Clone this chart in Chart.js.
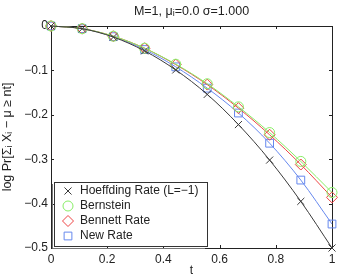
<!DOCTYPE html>
<html>
<head>
<meta charset="utf-8">
<script src="https://cdn.jsdelivr.net/npm/chart.js@4/dist/chart.umd.min.js"></script>
<style>
    html, body { margin: 0; padding: 0; background: #fff; }
</style>
</head>
<body>
<canvas id="grafico" width="341" height="278"></canvas>
<script>
// datos
var tValues = [0, 0.111, 0.222, 0.333, 0.444, 0.556, 0.667, 0.778, 0.889, 1];
var hoeffding = [0, -0.006, -0.025, -0.056, -0.099, -0.154, -0.222, -0.302, -0.395, -0.5];
var bernstein = [0, -0.006, -0.023, -0.05, -0.086, -0.13, -0.182, -0.24, -0.305, -0.375];
var bennett = [0, -0.006, -0.023, -0.05, -0.087, -0.132, -0.185, -0.245, -0.312, -0.386];
var newRate = [0, -0.006, -0.024, -0.053, -0.092, -0.14, -0.196, -0.264, -0.347, -0.446];
var xTicks = [0, 0.2, 0.4, 0.6, 0.8, 1];
var yTicks = [0, -0.1, -0.2, -0.3, -0.4, -0.5];
var etiquetas = ["Hoeffding Rate (L=\u22121)", "Bernstein", "Bennett Rate", "New Rate"];
var titulo = "M=1, \u03bc\u1d62=0.0 \u03c3=1.000";

var fuente = "'Liberation Sans', Arial, sans-serif";

function puntos(serie) {
    return tValues.map(function (t, i) { return { x: t, y: serie[i] }; });
}

function serie(label, data, color, estilo, radio) {
    return {
        label: label,
        data: puntos(data),
        borderColor: color,
        borderWidth: 1,
        pointStyle: estilo,
        pointRadius: radio,
        pointBorderColor: color,
        pointBackgroundColor: "rgba(0,0,0,0)",
        pointBorderWidth: 1,
        cubicInterpolationMode: "monotone",
        clip: false,
        fill: false,
    };
}

var colores = ["#3a3a3a", "#88ee66", "#ee4444", "#6688ee"];
var estilos = ["crossRot", "circle", "rectRot", "rect"];
var radios = [5, 5, 5.5, 5.5];

function marcador(ctx, estilo, x, y, r, color) {
    ctx.save();
    ctx.strokeStyle = color;
    ctx.lineWidth = 1;
    ctx.beginPath();
    if (estilo === "crossRot") {
        var d = r * 0.707;
        ctx.moveTo(x - d, y - d); ctx.lineTo(x + d, y + d);
        ctx.moveTo(x - d, y + d); ctx.lineTo(x + d, y - d);
    } else if (estilo === "circle") {
        ctx.arc(x, y, r, 0, Math.PI * 2);
    } else if (estilo === "rectRot") {
        ctx.moveTo(x, y - r); ctx.lineTo(x + r, y); ctx.lineTo(x, y + r); ctx.lineTo(x - r, y); ctx.closePath();
    } else {
        var h = r * 0.707;
        ctx.rect(x - h, y - h, 2 * h, 2 * h);
    }
    ctx.stroke();
    ctx.restore();
}

var marco = {
    id: "marco",
    beforeDatasetsDraw: function (chart) {
        var ctx = chart.ctx;
        var a = chart.chartArea;
        var sx = chart.scales.x, sy = chart.scales.y;
        ctx.save();
        ctx.strokeStyle = "#222";
        ctx.lineWidth = 1;
        ctx.strokeRect(Math.round(a.left) + 0.5, Math.round(a.top) + 0.5, Math.round(a.right - a.left), Math.round(a.bottom - a.top));
        ctx.beginPath();
        xTicks.forEach(function (v) {
            var px = Math.round(sx.getPixelForValue(v)) + 0.5;
            ctx.moveTo(px, a.bottom); ctx.lineTo(px, a.bottom - 3);
            ctx.moveTo(px, a.top); ctx.lineTo(px, a.top + 3);
        });
        yTicks.forEach(function (v) {
            var py = Math.round(sy.getPixelForValue(v)) + 0.5;
            ctx.moveTo(a.left, py); ctx.lineTo(a.left + 3, py);
            ctx.moveTo(a.right, py); ctx.lineTo(a.right - 3, py);
        });
        ctx.stroke();

        // titulo
        ctx.fillStyle = "#222";
        ctx.font = "12.5px " + fuente;
        ctx.textAlign = "center";
        ctx.textBaseline = "middle";
        ctx.fillText(titulo, (a.left + a.right) / 2, 12);
        ctx.restore();
    },
    afterDraw: function (chart) {
        var ctx = chart.ctx;
        ctx.save();
        // leyenda
        var lx = 54, ly = 182, lw = 153, lh = 64;
        ctx.fillStyle = "#fff";
        ctx.fillRect(lx, ly, lw, lh);
        ctx.strokeStyle = "#333";
        ctx.lineWidth = 1;
        ctx.strokeRect(lx + 0.5, ly + 0.5, lw, lh);
        ctx.strokeStyle = "#777";
        ctx.beginPath();
        ctx.moveTo(lx - 1.5, ly + 2); ctx.lineTo(lx - 1.5, ly + lh + 2.5); ctx.lineTo(lx + lw - 2, ly + lh + 2.5);
        ctx.stroke();
        ctx.font = "12px " + fuente;
        ctx.textAlign = "left";
        ctx.textBaseline = "middle";
        ctx.fillStyle = "#222";
        etiquetas.forEach(function (txt, i) {
            var y = 191 + i * 15;
            marcador(ctx, estilos[i], 68, y, radios[i], colores[i]);
            ctx.fillText(txt, 80, y);
        });
        ctx.restore();
    },
};

function cargaGrafico() {
    var datasets = etiquetas.map(function (l, i) {
        return serie(l, [hoeffding, bernstein, bennett, newRate][i], colores[i], estilos[i], radios[i]);
    });
    new Chart(document.getElementById("grafico"), {
        type: "line",
        data: { datasets: datasets },
        plugins: [marco],
        options: {
            responsive: false,
            animation: false,
            layout: { padding: { top: 26, right: 9, left: 0, bottom: 0 } },
            plugins: { legend: { display: false }, tooltip: { enabled: false } },
            scales: {
                x: {
                    type: "linear",
                    min: 0,
                    max: 1,
                    afterBuildTicks: function (s) { s.ticks = xTicks.map(function (v) { return { value: v }; }); },
                    afterFit: function (s) { s.height = 30; },
                    grid: { display: false, drawTicks: false },
                    border: { display: false },
                    ticks: {
                        padding: 4,
                        color: "#222",
                        font: { family: fuente, size: 12 },
                        callback: function (v) { return String(v); },
                    },
                    title: { display: true, text: "t", color: "#222", font: { family: fuente, size: 12 }, padding: { top: 0, bottom: 0 } },
                },
                y: {
                    min: -0.5,
                    max: 0,
                    afterBuildTicks: function (s) { s.ticks = yTicks.map(function (v) { return { value: v }; }); },
                    afterFit: function (s) { s.width = 51; },
                    grid: { display: false, drawTicks: false },
                    border: { display: false },
                    ticks: {
                        padding: 3,
                        color: "#222",
                        font: { family: fuente, size: 12 },
                        callback: function (v) { return v === 0 ? "0" : "\u2212" + Math.abs(v).toFixed(1); },
                    },
                    title: { display: true, text: "log Pr[\u03a3\u1d62 X\u1d62 \u2212 \u03bc \u2265 nt]", color: "#222", font: { family: fuente, size: 12.5 }, padding: { top: 0, bottom: 0 } },
                },
            },
        },
    });
}

cargaGrafico();
</script>
</body>
</html>
